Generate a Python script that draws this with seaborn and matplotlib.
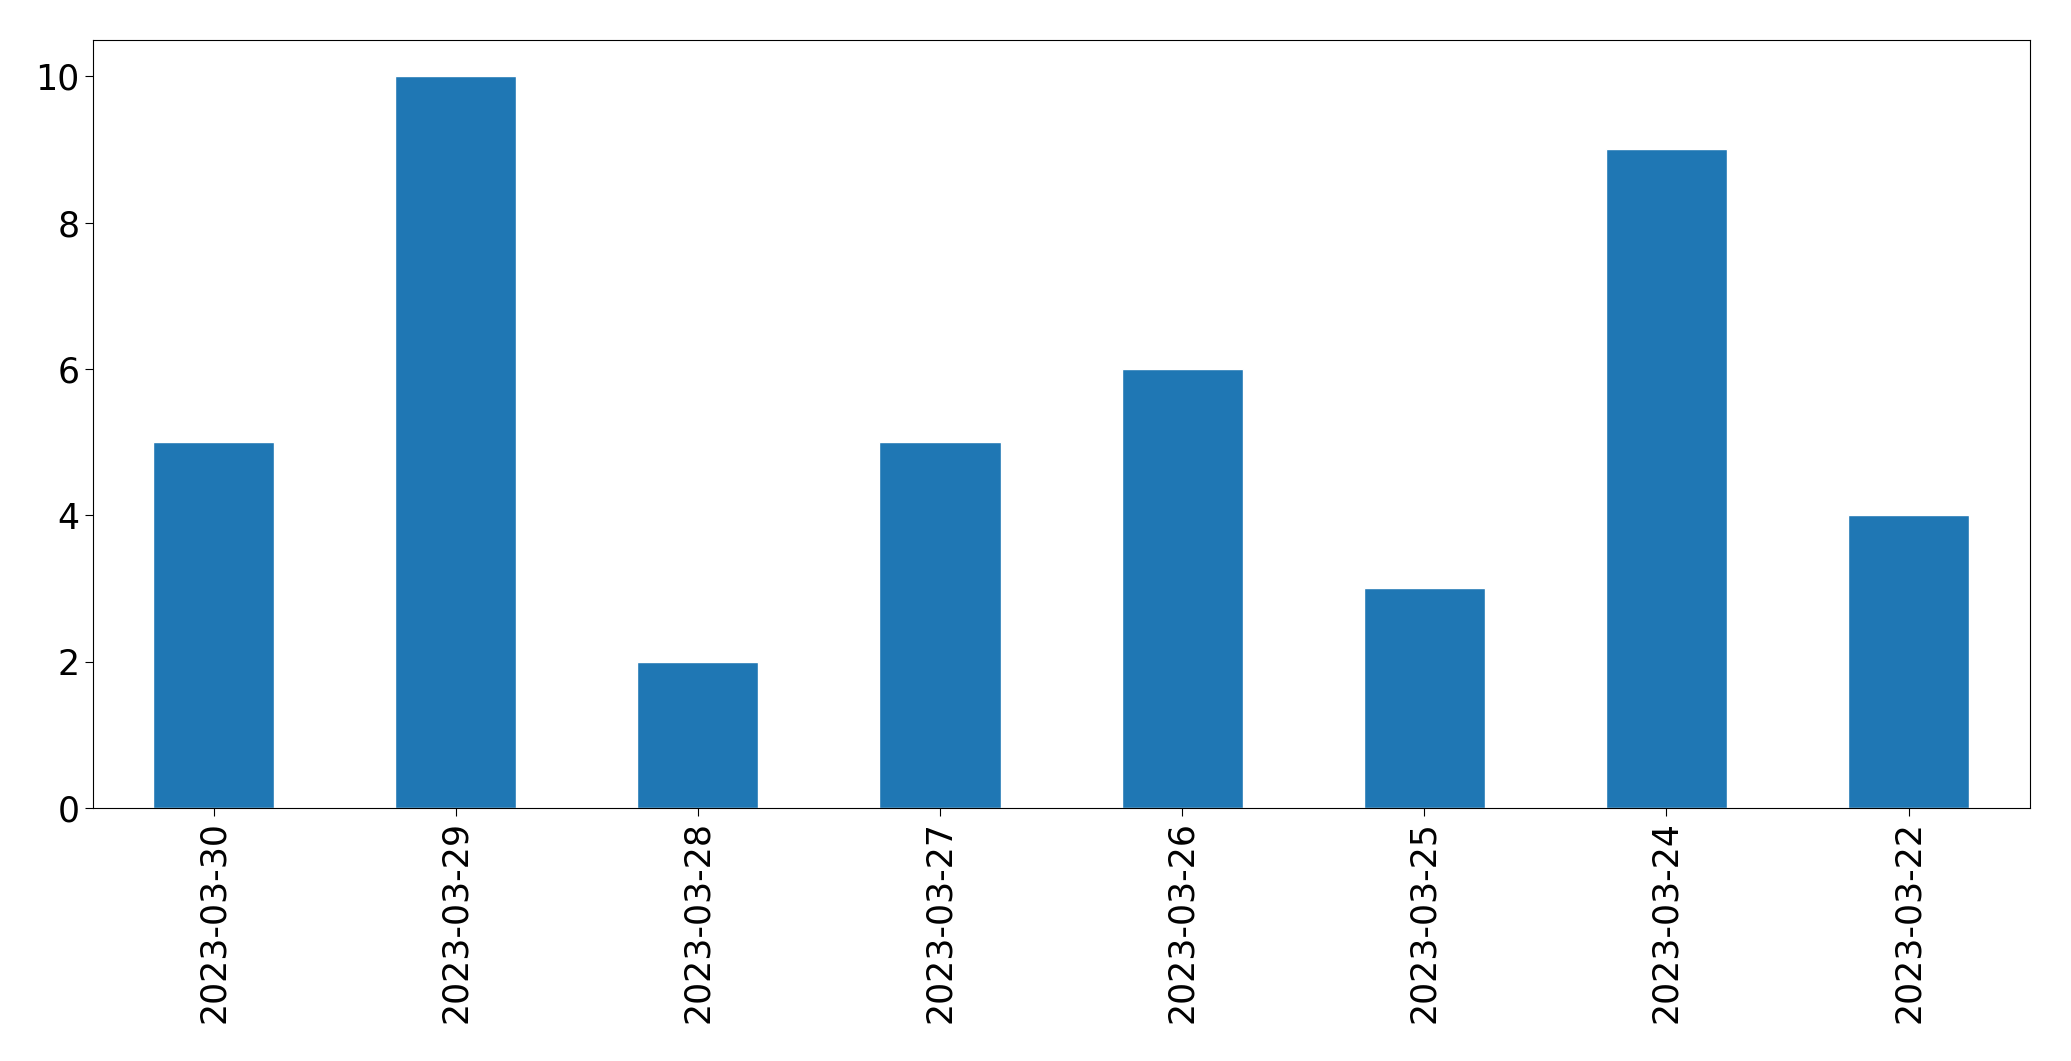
import matplotlib
matplotlib.use('Agg')
import matplotlib.pyplot as plt
import seaborn as sns
import pandas as pd

# Données
dates = ['2023-03-30', '2023-03-29', '2023-03-28', '2023-03-27',
         '2023-03-26', '2023-03-25', '2023-03-24', '2023-03-22']
comptes = [5, 10, 2, 5, 6, 3, 9, 4]

df = pd.DataFrame({'date': dates, 'count': comptes})

sns.set_style('ticks', {'axes.edgecolor': 'black', 'xtick.color': 'black',
                        'ytick.color': 'black', 'text.color': 'black'})
plt.rcParams['font.family'] = ['DejaVu Sans']

fig, ax = plt.subplots(figsize=(20.71, 10.61), dpi=100)
sns.barplot(data=df, x='date', y='count', order=dates, color='#1f77b4',
            saturation=1, width=0.5, ax=ax)

ax.set_xlim(-0.5, len(dates) - 0.5)
ax.set_ylim(0, 10.5)
ax.set_xlabel('')
ax.set_ylabel('')
ax.tick_params(axis='both', labelsize=25, length=6, colors='black')
plt.xticks(rotation=90)
for s in ax.spines.values():
    s.set_visible(True)
    s.set_linewidth(0.8)
    s.set_color('black')

plt.subplots_adjust(left=0.0447, right=0.980, top=0.9627, bottom=0.2384)
plt.savefig('out.png', dpi=100)
